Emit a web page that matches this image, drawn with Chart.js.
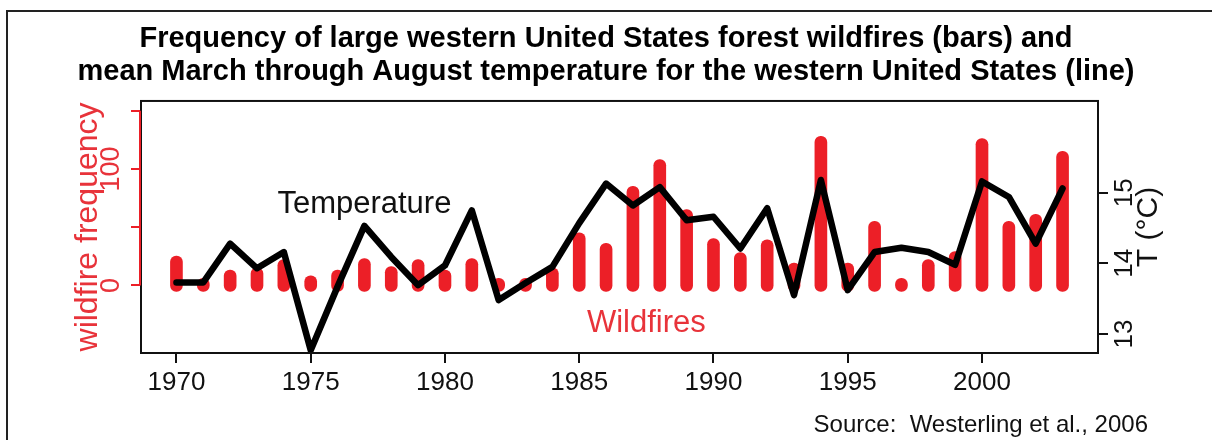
<!DOCTYPE html>
<html>
<head>
<meta charset="utf-8">
<script src="https://cdn.jsdelivr.net/npm/chart.js@4"></script>
<style>
  body { margin: 0; background: #fff; }
</style>
</head>
<body>
<canvas id="fireChart" width="1212" height="440"></canvas>
<script>
// years 1970-2003
const years = [1970, 1971, 1972, 1973, 1974, 1975, 1976, 1977, 1978, 1979,
  1980, 1981, 1982, 1983, 1984, 1985, 1986, 1987, 1988, 1989,
  1990, 1991, 1992, 1993, 1994, 1995, 1996, 1997, 1998, 1999,
  2000, 2001, 2002, 2003];

// number of large fires per year (left axis)
const fires = [20, 1, 8, 10, 17, 3, 8, 18, 11, 17,
  8, 18, 1, 1, 10, 40, 31, 80, 103, 60,
  35, 23, 34, 14, 123, 14, 50, 1, 17, 24,
  121, 50, 56, 110];

// mean March-August temperature, deg C (right axis)
const temps = [13.73, 13.73, 14.28, 13.93, 14.16, 12.77, 13.67, 14.53, 14.09, 13.69,
  13.97, 14.75, 13.48, 13.72, 13.95, 14.57, 15.13, 14.82, 15.08, 14.61,
  14.66, 14.21, 14.78, 13.55, 15.18, 13.62, 14.16, 14.22, 14.16, 13.98,
  15.16, 14.94, 14.28, 15.06];

const yearTicks = [1970, 1975, 1980, 1985, 1990, 1995, 2000];
const fireTicks = [0, 50, 100, 150];
const fireLabels = [0, 100];
const tempTicks = [13, 14, 15];

const RED = "#ec1f27";
const TEXT_RED = "#e8333a";
const FONT = "'Liberation Sans', Arial, sans-serif";

// the bars are thick round-capped strokes, so the cap pokes past both ends
const CAP = 5.2;
const barData = years.map((yr, i) => ({ x: yr, y: [-CAP, fires[i] + CAP] }));
const lineData = years.map((yr, i) => ({ x: yr, y: temps[i] }));

// box, rotated axis labels, in-plot labels, source line
const decorations = {
  id: "decorations",
  beforeDraw(chart) {
    const c = chart.ctx;
    c.save();
    c.fillStyle = "#fff";
    c.fillRect(0, 0, chart.width, chart.height);
    c.strokeStyle = "#222";
    c.lineWidth = 2;
    c.beginPath();
    c.moveTo(7, chart.height);
    c.lineTo(7, 11);
    c.lineTo(chart.width, 11);
    c.stroke();
    c.restore();
  },
  afterDraw(chart) {
    const c = chart.ctx;
    const a = chart.chartArea;
    const x = chart.scales.x, y = chart.scales.y, y2 = chart.scales.y2;
    c.save();
    c.strokeStyle = "#111";
    c.lineWidth = 2;
    c.strokeRect(a.left, a.top, a.right - a.left, a.bottom - a.top);

    // red left axis line
    c.strokeStyle = RED;
    c.beginPath();
    c.moveTo(a.left - 1, y.getPixelForValue(fireTicks[0]));
    c.lineTo(a.left - 1, y.getPixelForValue(fireTicks[fireTicks.length - 1]));
    c.stroke();

    const rotText = (txt, px, py, font, color) => {
      c.save();
      c.translate(px, py);
      c.rotate(-Math.PI / 2);
      c.font = font;
      c.fillStyle = color;
      c.textAlign = "center";
      c.textBaseline = "middle";
      c.fillText(txt, 0, 0);
      c.restore();
    };
    fireLabels.forEach(v => rotText(String(v), 112, y.getPixelForValue(v), "27px " + FONT, TEXT_RED));
    tempTicks.forEach(v => rotText(String(v), 1125, y2.getPixelForValue(v), "26px " + FONT, "#111"));
    rotText("T (°C)", 1149, (a.top + a.bottom) / 2, "30px " + FONT, "#111");

    c.font = "31px " + FONT;
    c.textAlign = "center";
    c.textBaseline = "alphabetic";
    c.fillStyle = "#111";
    c.fillText("Temperature", x.getPixelForValue(1977), 213);
    c.fillStyle = TEXT_RED;
    c.fillText("Wildfires", x.getPixelForValue(1987.5), 332);

    c.font = "24px " + FONT;
    c.fillStyle = "#111";
    c.textAlign = "right";
    c.fillText("Source:  Westerling et al., 2006", 1148, 432);
    c.restore();
  }
};

const ctx = document.getElementById("fireChart").getContext("2d");

new Chart(ctx, {
  type: "bar",
  data: {
    datasets: [
      {
        type: "line",
        label: "Temperature",
        data: lineData,
        yAxisID: "y2",
        borderColor: "#000",
        borderWidth: 6.5,
        borderJoinStyle: "round",
        borderCapStyle: "round",
        pointRadius: 0,
        tension: 0,
        order: 0,
      },
      {
        type: "bar",
        label: "Wildfires",
        data: barData,
        yAxisID: "y",
        backgroundColor: RED,
        barThickness: 12,
        borderRadius: 6,
        borderSkipped: false,
        order: 1,
      },
    ],
  },
  options: {
    responsive: false,
    animation: false,
    layout: { padding: 0 },
    plugins: {
      legend: { display: false },
      tooltip: { enabled: false },
      title: {
        display: true,
        text: [
          "Frequency of large western United States forest wildfires (bars) and",
          "mean March through August temperature for the western United States (line)",
        ],
        color: "#000",
        font: { family: FONT, size: 29, weight: "bold", lineHeight: 1.12 },
        padding: { top: 23, bottom: 13 },
      },
    },
    scales: {
      x: {
        type: "linear",
        position: "bottom",
        min: 1968.68,
        max: 2004.32,
        offset: false,
        border: { display: false },
        grid: { offset: false, drawOnChartArea: false, drawTicks: true, tickLength: 10, color: "#111", lineWidth: 2 },
        ticks: {
          includeBounds: false,
          color: "#111",
          font: { family: FONT, size: 26 },
          padding: 4,
          maxRotation: 0,
          autoSkip: false,
          callback: v => String(v),
        },
        afterBuildTicks: s => { s.ticks = yearTicks.map(v => ({ value: v })); },
        afterFit: s => { s.height = 87; },
      },
      y: {
        position: "left",
        min: -58,
        max: 158.5,
        border: { display: false },
        grid: { drawOnChartArea: false, drawTicks: true, tickLength: 10, color: RED, lineWidth: 2 },
        ticks: { display: false, includeBounds: false },
        title: {
          display: true,
          text: "wildfire frequency",
          color: TEXT_RED,
          font: { family: FONT, size: 32 },
          padding: { top: 69, bottom: 0 },
        },
        afterBuildTicks: s => { s.ticks = fireTicks.map(v => ({ value: v })); },
        afterFit: s => { s.width = 141; },
      },
      y2: {
        position: "right",
        min: 12.73,
        max: 16.30,
        border: { display: false },
        grid: { drawOnChartArea: false, drawTicks: true, tickLength: 10, color: "#111", lineWidth: 2 },
        ticks: { display: false, includeBounds: false },
        afterBuildTicks: s => { s.ticks = tempTicks.map(v => ({ value: v })); },
        afterFit: s => { s.width = 114; },
      },
    },
  },
  plugins: [decorations],
});
</script>
</body>
</html>
